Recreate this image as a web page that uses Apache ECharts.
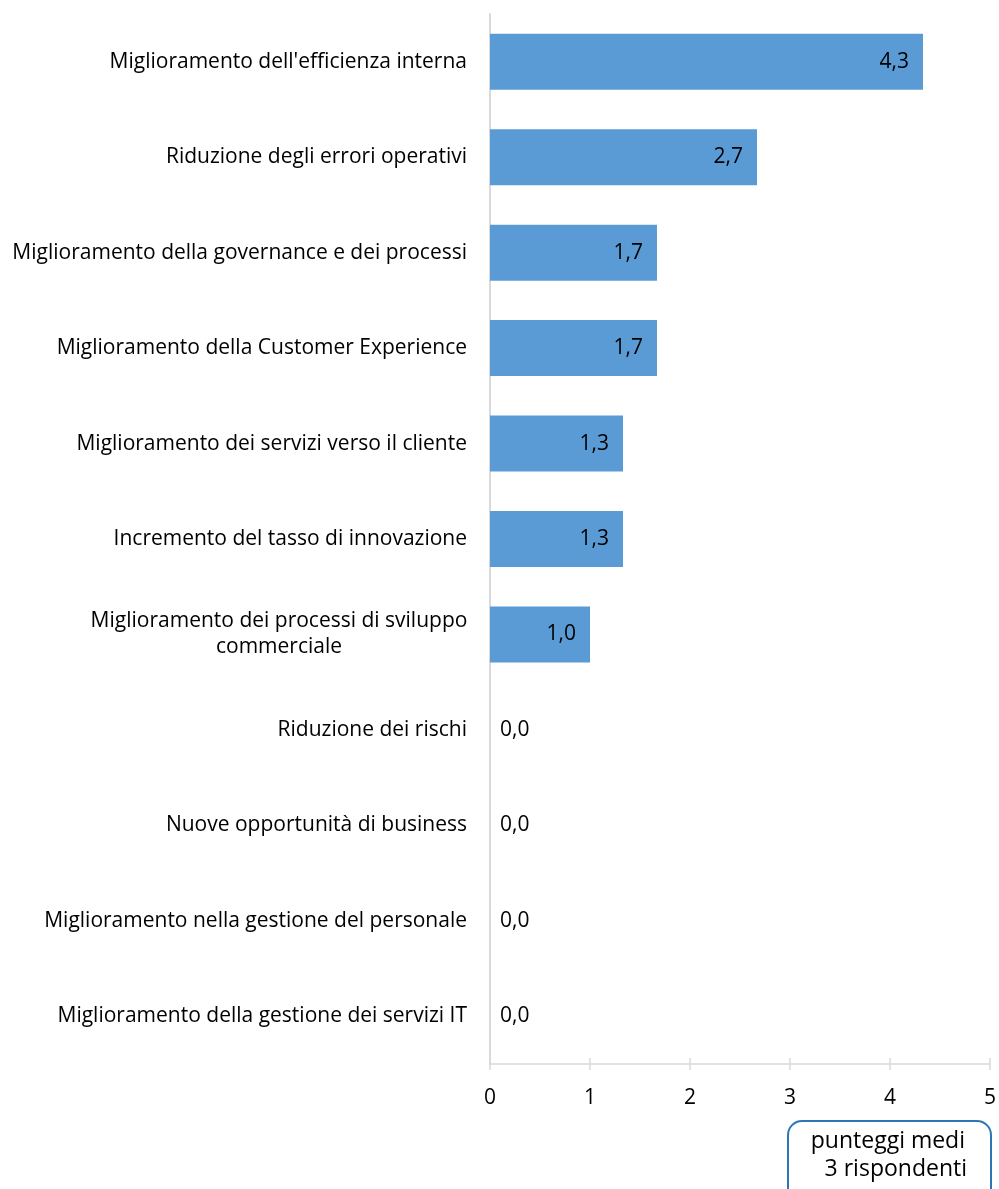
<!DOCTYPE html>
<html lang="it" style="height: 100%">
<head>
  <meta charset="utf-8">
</head>
<body style="height: 100%; margin: 0">
  <div id="container" style="width: 999px; height: 1189px"></div>
  <script type="text/javascript" src="https://cdn.jsdelivr.net/npm/echarts@6/dist/echarts.min.js"></script>
  <script type="text/javascript">
    const categories = [
      "Miglioramento dell'efficienza interna",
      'Riduzione degli errori operativi',
      'Miglioramento della governance e dei processi',
      'Miglioramento della Customer Experience',
      'Miglioramento dei servizi verso il cliente',
      'Incremento del tasso di innovazione',
      'Miglioramento dei processi di sviluppo\ncommerciale',
      'Riduzione dei rischi',
      'Nuove opportunità di business',
      'Miglioramento nella gestione del personale',
      'Miglioramento della gestione dei servizi IT'
    ];
    const values = [4.33, 2.67, 1.67, 1.67, 1.33, 1.33, 1.0, 0, 0, 0, 0];
    const xTicks = [0, 1, 2, 3, 4, 5];
    const noteLines = ['punteggi medi', '3 rispondenti'];

    const FONT = '"Open Sans", sans-serif';
    const FS = 21;
    var dom = document.getElementById('container');
    var myChart = echarts.init(dom, null, { renderer: 'canvas' });

    const fmt = (v) => v.toFixed(1).replace('.', ',');

    const data = values.map((v) => ({
      value: v,
      label: v > 0
        ? { position: 'insideRight', distance: 14 }
        : { position: 'right', distance: 10 }
    }));

    const axisGrey = { color: '#d9d9d9', width: 1.5 };

    // note box in the bottom right corner, one text element per line
    const noteGraphics = [
      {
        type: 'rect',
        left: 787,
        top: 1120,
        shape: { width: 203, height: 110, r: 14 },
        style: { fill: '#fff', stroke: '#2e75b6', lineWidth: 2 }
      }
    ].concat(noteLines.map((line, i) => ({
      type: 'text',
      right: i === 0 ? 34 : 32,
      top: 1130 + i * 28,
      style: { text: line, fill: '#000', font: '23px ' + FONT }
    })));

    var option = {
      animation: false,
      backgroundColor: '#fff',
      grid: { left: 490, right: 7, top: 14, bottom: 125, containLabel: false },
      xAxis: [
        {
          type: 'value',
          min: xTicks[0],
          max: xTicks[xTicks.length - 1],
          interval: 1,
          splitLine: { show: false },
          axisLine: { show: true, lineStyle: axisGrey },
          axisTick: { show: true, length: 6, lineStyle: axisGrey },
          axisLabel: { color: '#000', fontFamily: FONT, fontSize: FS, margin: 24 }
        },
        {
          // second copy only to draw the inner half of the crossing ticks
          type: 'value',
          position: 'bottom',
          min: xTicks[0],
          max: xTicks[xTicks.length - 1],
          interval: 1,
          splitLine: { show: false },
          axisLine: { show: false },
          axisTick: { show: true, inside: true, length: 6, lineStyle: axisGrey },
          axisLabel: { show: false }
        }
      ],
      yAxis: {
        type: 'category',
        inverse: true,
        data: categories,
        axisLine: { show: true, lineStyle: { color: '#d9d9d9', width: 2 } },
        axisTick: { show: false },
        axisLabel: {
          color: '#000',
          fontFamily: FONT,
          fontSize: FS,
          margin: 23,
          lineHeight: 26,
          formatter: (val) => {
            if (val.indexOf('\n') < 0) return val;
            return val.split('\n').map((s) => '{c|' + s + '}').join('\n');
          },
          rich: {
            c: { width: 376, align: 'center', fontFamily: FONT, fontSize: FS, color: '#000', lineHeight: 26 }
          }
        }
      },
      series: [
        {
          type: 'bar',
          data: data,
          barWidth: 56,
          itemStyle: { color: '#5b9bd5' },
          label: {
            show: true,
            color: '#000',
            fontFamily: FONT,
            fontSize: FS,
            formatter: (p) => fmt(p.value)
          }
        }
      ],
      graphic: noteGraphics
    };

    myChart.setOption(option);
    window.addEventListener('resize', myChart.resize);
  </script>
</body>
</html>
